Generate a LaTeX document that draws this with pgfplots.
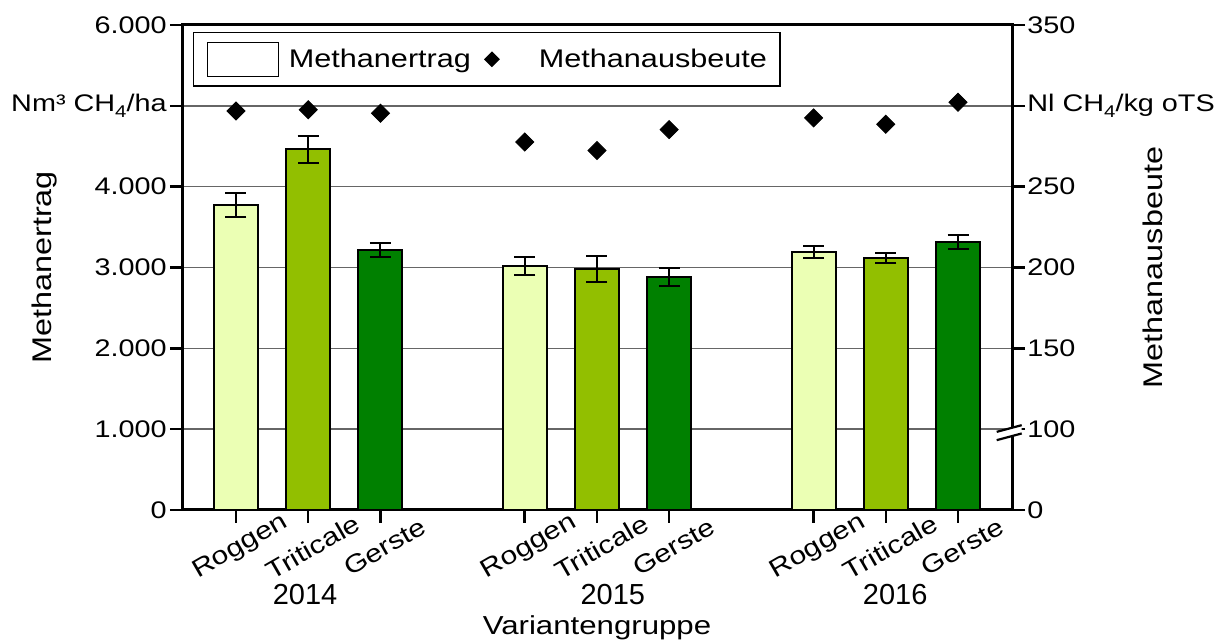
\documentclass[border=0pt]{standalone}
\usepackage{fontspec}
\setmainfont{Liberation Sans}
\newfontfamily\wide{Liberation Sans}[FakeStretch=1.2]
\usepackage{pgfplots}
\usepackage{pgfplotstable}
\pgfplotsset{compat=1.18}
\usetikzlibrary{calc}
\definecolor{roggen}{RGB}{235,255,180}
\definecolor{triticale}{RGB}{146,191,0}
\definecolor{gerste}{RGB}{0,128,0}
\newcommand{\sub}[1]{\raisebox{-3.2pt}{\fontsize{8.5}{9}\selectfont #1}}

\pgfplotstableread{
x y e
0 3777 150
4 3023 110
8 3192 76
}\roggen
\pgfplotstableread{
x y e
1 4462 170
5 2982 160
9 3118 64
}\triticale
\pgfplotstableread{
x y e
2 3217 90
6 2883 107
10 3316 88
}\gerste
% Methanausbeute (Nl CH4/kg oTS), right axis (broken: 100 ... 350)
\pgfplotstableread{
x y
0 296.8
1 297.6
2 295.4
4 277.6
5 272.3
6 285.3
8 292.5
9 288.6
10 302.2
}\ausbeute

\begin{document}
\begin{tikzpicture}
\pgfplotsset{
  base/.style={
    scale only axis, width=414.5pt, height=242.5pt,
    xmin=-0.734, xmax=10.748, ymin=0, ymax=6000,
    clip=false,
    axis line style={line width=1.5pt, black},
    tick align=outside,
    major tick length=6.5pt,
    tick style={line width=1.3pt, black},
    ytick={0,1000,2000,3000,4000,5000,6000},
  },
  errb/.style={error bars/.cd, y dir=both, y explicit,
    error bar style={line width=1pt, black},
    error mark options={rotate=90, mark size=5.25pt, line width=1pt, black}},
}
\begin{axis}[base,
  ytick pos=left, xtick pos=bottom,
  xtick={0,1,2,4,5,6,8,9,10},
  xticklabels={Roggen,Triticale,Gerste,Roggen,Triticale,Gerste,Roggen,Triticale,Gerste},
  xticklabel style={font=\wide\fontsize{12.5}{14}\selectfont, rotate=30, anchor=center, yshift=-11.5pt, xshift=-4pt},
  yticklabels={0,1.000,2.000,3.000,4.000,{Nm³ CH\sub{4}/ha},6.000},
  yticklabel style={font=\wide\fontsize{12}{14}\selectfont, inner xsep=1.5pt},
  ymajorgrids, grid style={line width=0.7pt, black!60},
  legend columns=2,
  legend style={draw=black, line width=0.6pt, at={(axis description cs:0.012,0.9856)}, anchor=north west,
    inner xsep=6.5pt, inner ysep=4.5pt, font=\wide\fontsize{12.75}{15}\selectfont,
    nodes={inner sep=0pt}, column sep=5pt},
]
\addplot[ybar, bar width=22pt, bar shift=0pt, fill=roggen, draw=black, line width=1pt,
  legend image code/.code={\draw[black, fill=white, line width=0.7pt] (0pt,-8.5pt) rectangle (35.5pt,8.5pt);},
  errb]
  table[x=x, y=y, y error=e] {\roggen};
\addlegendentry{Methanertrag}
\addplot[forget plot, ybar, bar width=22pt, bar shift=0pt, fill=triticale, draw=black, line width=1pt, errb]
  table[x=x, y=y, y error=e] {\triticale};
\addplot[forget plot, ybar, bar width=22pt, bar shift=0pt, fill=gerste, draw=black, line width=1pt, errb]
  table[x=x, y=y, y error=e] {\gerste};
\addplot[only marks, mark=square*, mark size=3.2pt, mark options={rotate=45, fill=black, draw=black},
  legend image code/.code={\path[draw=none, fill=none] (0pt,-1pt) rectangle (24pt,1pt);
    \fill[black, draw=none, rotate around={45:(5.5pt,0pt)}] (2.7pt,-2.8pt) rectangle (8.3pt,2.8pt);}]
  table[x=x, y expr={(\thisrow{y}-50)*20}] {\ausbeute};
\addlegendentry{Methanausbeute}

\node[font=\fontsize{14.5}{16}\selectfont] at ([yshift=-42.5pt]axis cs:0.956,0) {2014};
\node[font=\fontsize{14.5}{16}\selectfont] at ([yshift=-42.5pt]axis cs:5.22,0) {2015};
\node[font=\fontsize{14.5}{16}\selectfont] at ([yshift=-42.5pt]axis cs:9.13,0) {2016};
\node[font=\wide\fontsize{13}{15}\selectfont] at ([yshift=-59pt]axis cs:5,0) {Variantengruppe};
\node[rotate=90, font=\wide\fontsize{13.5}{16}\selectfont] at ([xshift=-69pt]rel axis cs:0,0.5) {Methanertrag};
\node[rotate=90, font=\wide\fontsize{13.5}{16}\selectfont] at ([xshift=70.5pt]rel axis cs:1,0.5) {Methanausbeute};
\end{axis}

\begin{axis}[base,
  axis x line=none, axis y line*=right, ytick pos=right,
  yticklabels={0,100,150,200,250,{Nl CH\sub{4}/kg oTS},350},
  yticklabel style={font=\wide\fontsize{12}{14}\selectfont, inner xsep=1pt},
]
\fill[white] ([shift={(-7.65pt,-1.35pt)}]axis cs:10.748,1000) -- ([shift={(4.85pt,2pt)}]axis cs:10.748,1000)
  -- ([shift={(4.85pt,-2.15pt)}]axis cs:10.748,1000) -- ([shift={(-7.65pt,-5.5pt)}]axis cs:10.748,1000) -- cycle;
\draw[black, line width=1.1pt] ([shift={(-7.65pt,-1.35pt)}]axis cs:10.748,1000) -- ([shift={(4.85pt,2pt)}]axis cs:10.748,1000);
\draw[black, line width=1.1pt] ([shift={(-7.65pt,-5.5pt)}]axis cs:10.748,1000) -- ([shift={(4.85pt,-2.15pt)}]axis cs:10.748,1000);
\end{axis}
\pgfresetboundingbox
\path[use as bounding box] ($(current axis.south west)+(-91.5pt,-67pt)$) rectangle ($(current axis.north east)+(109.5pt,12.5pt)$);
\end{tikzpicture}
\end{document}
